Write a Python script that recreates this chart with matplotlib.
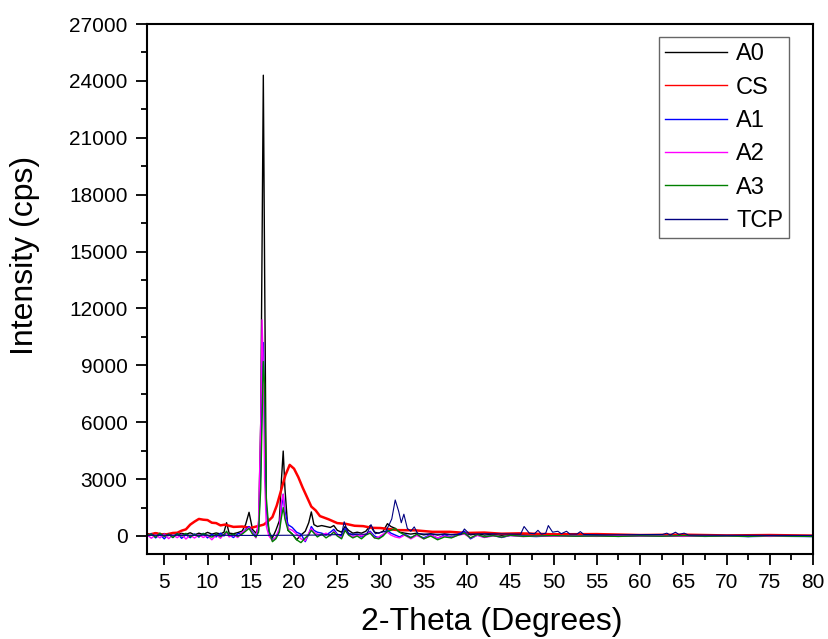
import numpy as np
import matplotlib.pyplot as plt
from matplotlib.ticker import MultipleLocator

plt.rcParams['font.family'] = ['Liberation Sans', 'DejaVu Sans']

# Общая сетка 2-Theta для образцов A0..A3
theta_a = [3.0, 3.5, 4.0, 4.5, 5.0, 5.5, 6.0, 6.5, 7.0, 7.5,
           8.0, 8.5, 9.0, 9.5, 10.0, 10.5, 11.0, 11.5, 11.9, 12.2,
           12.5, 13.0, 13.5, 14.0, 14.4, 14.8, 15.2, 15.6, 15.9, 16.15,
           16.3, 16.45, 16.6, 16.8, 17.1, 17.5, 17.9, 18.3, 18.55, 18.75,
           18.95, 19.3, 19.8, 20.3, 20.8, 21.3, 21.7, 22.0, 22.3, 22.7,
           23.2, 23.7, 24.2, 24.6, 25.0, 25.5, 25.9, 26.3, 26.8, 27.3,
           27.8, 28.3, 28.8, 29.3, 29.8, 30.3, 30.8, 31.2, 31.7, 32.2,
           32.8, 33.5, 34.2, 35.0, 35.8, 36.6, 37.4, 38.2, 39.0, 39.7,
           40.4, 41.2, 42.0, 43.0, 44.0, 45.0, 46.5, 48.0, 50.0, 52.5,
           55.0, 57.5, 60.0, 62.5, 65.0, 67.5, 70.0, 72.5, 75.0, 77.5,
           80.0]

a0 = [150, 40, 180, 60, 130, 20, 160, 70, 140, 90,
      170, 60, 150, 80, 190, 100, 160, 110, 200, 700,
      150, 120, 180, 260, 600, 1250, 350, 150, 500, 6000,
      15000, 24300, 14000, 1500, 200, -100, 300, 800, 3000, 4480,
      2500, 300, 100, -200, 50, 250, 700, 1270, 600, 500,
      550, 500, 450, 550, 300, 200, 500, 300, 150, 200,
      150, 250, 550, 200, 150, 250, 650, 500, 400, 200,
      150, 100, 150, 60, 120, 50, 110, 60, 100, 180,
      60, 120, 50, 90, 40, 80, 60, 30, 50, 20,
      40, 10, 30, 0, 20, -10, 10, -20, 0, -10,
      -20]

a1 = [-50, 120, -100, 80, -150, 100, -80, 130, -120, 60,
      -90, 110, -60, 140, -100, 90, -50, 150, 0, 200,
      50, -80, 120, 150, 350, 500, 200, 0, 300, 3500,
      7500, 10200, 6000, 1500, 200, -200, -100, 300, 1500, 2200,
      1300, 600, 450, 200, 100, -300, 100, 500, 300, 200,
      150, 50, 200, 350, 100, 0, 400, 150, 50, 100,
      -50, 100, 250, 0, -100, 50, 300, 150, 50, -50,
      100, -80, 50, -100, 80, -120, 60, -60, 100, 250,
      -150, 50, -60, 40, -80, 30, 0, -30, 20, -10,
      10, -20, 0, -10, 20, -20, 0, -30, -10, -20,
      -30]

a2 = [80, -120, 60, -100, 110, -140, 50, -90, 90, -160,
      40, -110, 70, -80, 30, -200, 60, -120, 100, 150,
      -50, 60, -80, 200, 300, 450, 150, -100, 800, 6000,
      11400, 9000, 3000, 500, 0, -250, -50, 400, 1800, 2200,
      1000, 400, 300, 100, -150, -250, 150, 400, 200, 100,
      50, 150, 0, 250, 50, -100, 300, 100, -50, 50,
      0, 100, 200, -100, -50, 100, 200, 50, -50, -100,
      50, -150, 30, -150, 50, -100, 0, -80, 50, 100,
      -100, 30, -80, 0, -50, 20, -30, 0, -10, 0,
      -20, 10, -10, 0, -20, 10, -10, 0, -20, 0,
      -10]

a3 = [20, 100, -60, 150, -30, 90, -80, 120, 0, 140,
      -40, 80, -20, 130, 40, -60, 100, -30, 80, 250,
      30, 100, -20, 100, 250, 400, 100, -50, 200, 2500,
      6000, 9200, 8000, 2000, 300, -300, -150, 200, 1000, 1500,
      900, 300, 100, -200, -350, -100, 50, 300, 150, -50,
      100, -100, 50, 200, 0, -150, 300, 50, -100, 0,
      -150, 50, 150, -100, -150, 0, 250, 300, 400, 200,
      50, -100, 100, -150, 0, -200, -50, -100, 50, 150,
      -100, 80, -50, 20, -60, 40, -20, 0, 20, -10,
      0, -20, 10, -10, 20, -10, 0, -20, 10, -10,
      -20]

# Хитозан (CS) - широкое гало
theta_cs = [3, 4, 5, 6, 6.5, 7, 7.5, 8, 8.5, 9,
            9.5, 10, 10.5, 11, 11.5, 12, 13, 14, 15, 16,
            16.5, 17, 17.5, 18, 18.5, 19, 19.5, 20, 20.5, 21,
            21.5, 22, 22.5, 23, 24, 25, 26, 27, 28, 29,
            30, 32, 34, 36, 38, 40, 42, 44, 46, 50,
            55, 60, 65, 70, 75, 80]
cs = [50, 150, 60, 160, 170, 280, 350, 600, 760, 900,
      860, 840, 700, 680, 560, 600, 480, 500, 430, 540,
      600, 780, 1000, 1600, 2400, 3200, 3750, 3550, 3100, 2550,
      2050, 1550, 1350, 1050, 880, 680, 640, 540, 520, 430,
      420, 310, 300, 220, 220, 160, 180, 120, 140, 90,
      100, 50, 70, 30, 50, 20]

# TCP
theta_tcp = [3, 10, 15, 20, 23, 25.5, 25.8, 26.3, 28.4, 28.9,
             29.4, 30.6, 31.0, 31.3, 31.7, 32.1, 32.4, 32.7, 33.1, 33.5,
             33.9, 34.3, 35.5, 39.3, 39.7, 40.3, 42, 46.2, 46.6, 47.2,
             47.8, 48.2, 48.6, 49.1, 49.4, 49.9, 50.5, 50.9, 51.5, 51.9,
             52.7, 53.1, 53.5, 56, 62.6, 63.1, 63.5, 64.1, 64.5, 65.1,
             65.6, 70, 80]
tcp = [40, 40, 30, 40, 50, 80, 750, 100, 90, 600,
       120, 250, 600, 900, 1900, 1300, 700, 1150, 400, 250,
       480, 120, 100, 80, 370, 100, 120, 100, 500, 150,
       120, 300, 100, 150, 550, 200, 250, 120, 250, 100,
       100, 230, 80, 60, 80, 150, 50, 200, 80, 150,
       50, 40, 30]

fig = plt.figure(figsize=(8.29, 6.39), dpi=100)
ax = fig.add_axes([0.1773, 0.1330, 0.8034, 0.8294])

ax.plot(theta_a, a0, color='black', lw=1.0, label='A0')
ax.plot(theta_cs, cs, color='#ff0000', lw=1.8, label='CS')
ax.plot(theta_a, a1, color='#0000ff', lw=1.0, label='A1')
ax.plot(theta_a, a2, color='#ff00ff', lw=1.0, label='A2')
ax.plot(theta_a, a3, color='#008000', lw=1.0, label='A3')
ax.plot(theta_tcp, tcp, color='#000080', lw=0.8, label='TCP')

ax.set_xlim(3, 80)
ax.set_ylim(-950, 27000)
ax.xaxis.set_major_locator(MultipleLocator(5))
ax.xaxis.set_minor_locator(MultipleLocator(2.5))
ax.yaxis.set_major_locator(MultipleLocator(3000))
ax.yaxis.set_minor_locator(MultipleLocator(1500))
ax.tick_params(which='major', direction='out', length=8, width=1.3,
               labelsize=15, pad=6)
ax.tick_params(which='minor', direction='out', length=4.5, width=1.3)
for s in ax.spines.values():
    s.set_linewidth(1.5)

ax.set_xlabel('2-Theta (Degrees)', fontsize=23)
ax.set_ylabel('Intensity (cps)', fontsize=23)
ax.xaxis.set_label_coords(0.518, -0.100)
ax.yaxis.set_label_coords(-0.160, 0.564)

leg = ax.legend(loc='upper right', bbox_to_anchor=(0.964, 0.975),
                borderaxespad=0, fontsize=17, handlelength=2.6,
                labelspacing=0.48, handletextpad=0.4, borderpad=0.25,
                fancybox=False, framealpha=1)
leg.get_frame().set_edgecolor('#666666')
leg.get_frame().set_linewidth(1.0)
for h in leg.get_lines():
    h.set_linewidth(1.0)

plt.savefig('out.png', dpi=100)
